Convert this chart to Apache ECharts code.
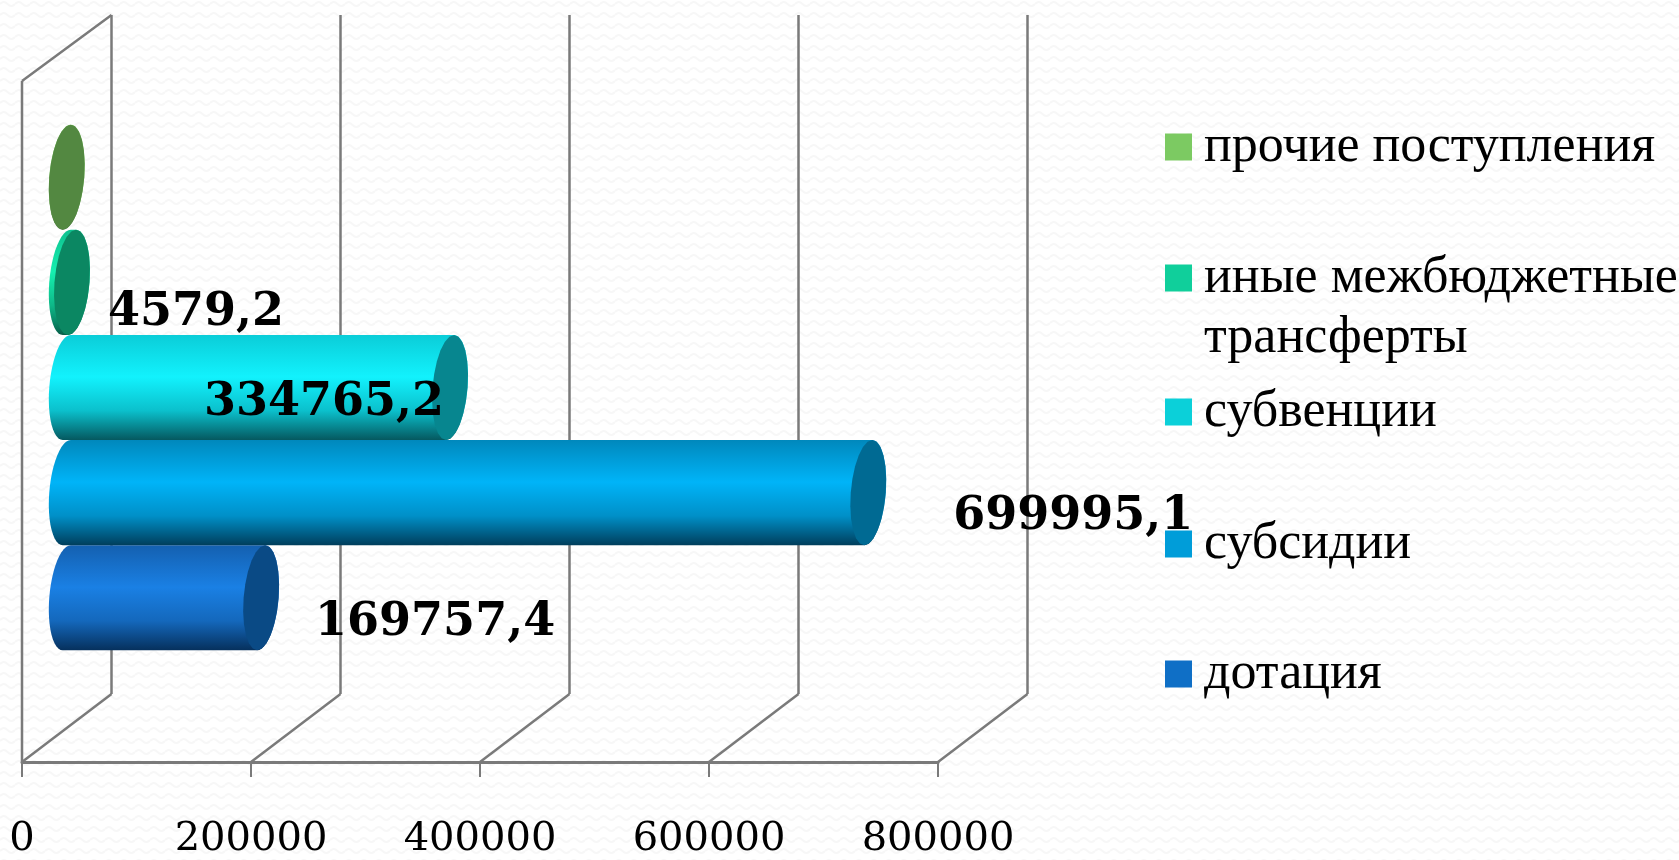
<!DOCTYPE html>
<html><head><meta charset="utf-8">
<style>
html,body{margin:0;padding:0;background-color:#fff;
background-image:url("data:image/svg+xml,%3Csvg xmlns='http://www.w3.org/2000/svg' width='15' height='11'%3E%3Cpath d='M0 4 Q3.75 0 7.5 4 T15 4' fill='none' stroke='%23f7f7f7' stroke-width='2'/%3E%3C/svg%3E")}
#c{width:1679px;height:860px}</style>
<script src="https://cdn.jsdelivr.net/npm/echarts@6/dist/echarts.min.js"></script>
</head><body><div id="c"></div>
<script>
const categories = [''];
const seriesNames = ['дотация','субсидии','субвенции','иные межбюджетные трансферты','прочие поступления'];
const seriesValues = [169757.4, 699995.1, 334765.2, 4579.2, 0];
const valueLabels = ['169757,4','699995,1','334765,2','4579,2',''];
const xTicks = [0,200000,400000,600000,800000];
const legendColors = ['#0F6FC6','#009DD9','#0BD0D9','#10CF9B','#7CCA62'];
const capColors = ['#0A4A85','#006A93','#07868F','#0B8762','#538841'];
const bodyStops = [
 ['#1460B0','#1A80E4','#1468BC','#06305C'],
 ['#0088BC','#00B4F8','#0090C8','#003E5C'],
 ['#0BCDD8','#12F2FD','#0BC0CC','#05585F'],
 ['#0EC08F','#16F0B0','#0EB888','#07604A'],
 ['#70B858','#7CCA62','#70B858','#40683A']
];
const labelShift = [[174,25],[205,24],[-126,16],[124,31],[0,0]];
const legendCenters = [674,544,412,278,147];
const serif = '"Liberation Serif"';
const numFont = '"DejaVu Serif"';
const DEPTH_X = 89.5, DEPTH_Y = 68, SLOT = 0.1544, TILT = 4, N = 24;

function ell(cx, cy, a, b, from, to) {
  const pts = [];
  for (let i = 0; i <= N; i++) {
    const t = from + (to - from) * i / N;
    pts.push([cx + a * Math.cos(t) - TILT * Math.sin(t), cy + b * Math.sin(t)]);
  }
  return pts;
}
function cylinder(idx) {
  return function (params, api) {
    const p = api.coord([api.value(0), 0]);
    const p0 = api.coord([0, 0]);
    const band = api.size([0, 1])[1];
    const h = band * SLOT;
    const cy = p[1] - DEPTH_Y / 2 + (2 - idx) * h;
    const x1 = p[0] + DEPTH_X / 2, x0 = p0[0] + DEPTH_X / 2;
    const b = h / 2, a = 17.5;
    const left = ell(x0, cy, a, b, Math.PI / 2, Math.PI * 1.5);
    const right = ell(x1, cy, a, b, -Math.PI / 2, Math.PI / 2);
    const s = bodyStops[idx];
    const children = [];
    children.push({
      type: 'polygon', shape: { points: left.concat(right) },
      style: { fill: { type: 'linear', x: 0, y: 0, x2: 0, y2: 1, colorStops: [
        { offset: 0, color: s[0] }, { offset: 0.4, color: s[1] }, { offset: 0.72, color: s[2] }, { offset: 1, color: s[3] } ] } }
    });
    children.push({
      type: 'polygon', shape: { points: ell(x1, cy, a, b, 0, Math.PI * 2) },
      style: { fill: capColors[idx] }
    });
    if (valueLabels[idx]) {
      children.push({
        type: 'text', z2: 50,
        style: { text: valueLabels[idx], x: x1 + labelShift[idx][0], y: cy + labelShift[idx][1],
          align: 'center', verticalAlign: 'middle', fill: '#000',
          font: 'bold 46px ' + numFont }
      });
    }
    return { type: 'group', children };
  };
}
function walls(params, api) {
  const sys = params.coordSys;
  const x = api.coord([api.value(0), 0])[0];
  const bot = sys.y + sys.height, top = sys.y;
  const line = (x1, y1, x2, y2) => ({ type: 'line', shape: { x1, y1, x2, y2 }, style: { stroke: '#7a7a7a', lineWidth: 2.5 } });
  const kids = [
    line(x, bot, x + DEPTH_X, bot - DEPTH_Y),
    line(x + DEPTH_X, bot - DEPTH_Y, x + DEPTH_X, top - DEPTH_Y + 2)
  ];
  if (params.dataIndex === 0) {
    kids.push(line(x, bot, x, top));
    kids.push(line(x, top, x + DEPTH_X, top - DEPTH_Y + 2));
  }
  return { type: 'group', children: kids };
}
const series = [{
  type: 'custom', name: 'walls', z: 1, silent: true, clip: false,
  data: xTicks.map(t => [t, 0]), encode: { x: 0, y: 1 }, renderItem: walls
}].concat(seriesNames.map((name, i) => ({
  type: 'custom', name, z: 2 + i, silent: true, clip: false,
  itemStyle: { color: legendColors[i] },
  data: [[seriesValues[i], 0]], encode: { x: 0, y: 1 }, renderItem: cylinder(i)
})));
const legends = seriesNames.map((name, i) => {
  const multi = name.indexOf('трансферты') >= 0;
  return {
    data: [{ name, icon: 'rect' }], orient: 'vertical', selectedMode: false,
    left: 1165, top: legendCenters[i] - (multi ? 90 : 30), padding: 0,
    itemWidth: 27, itemHeight: 27,
    formatter: multi ? '\u00a0\nиные межбюджетные\nтрансферты' : '{name}',
    textStyle: { fontFamily: serif, fontSize: 52, lineHeight: 60, color: '#000', padding: [0,0,0,7] }
  };
});
const chart = echarts.init(document.getElementById('c'), null, { renderer: 'canvas', width: 1679, height: 860 });
chart.setOption({
  animation: false,
  backgroundColor: 'transparent',
  grid: { left: 22, top: 81, width: 916, height: 681, containLabel: false, outerBoundsMode: 'none' },
  xAxis: { type: 'value', min: 0, max: 800000, interval: 200000,
    axisLine: { show: true, lineStyle: { color: '#7a7a7a', width: 3 } },
    axisTick: { show: true, length: 15, lineStyle: { color: '#7a7a7a', width: 2 } },
    splitLine: { show: false },
    axisLabel: { margin: 58, color: '#000', fontFamily: numFont, fontSize: 40, showMinLabel: true, showMaxLabel: true,
      formatter: v => String(v) } },
  yAxis: { type: 'category', data: categories, show: false },
  legend: legends,
  series
});
</script></body></html>
